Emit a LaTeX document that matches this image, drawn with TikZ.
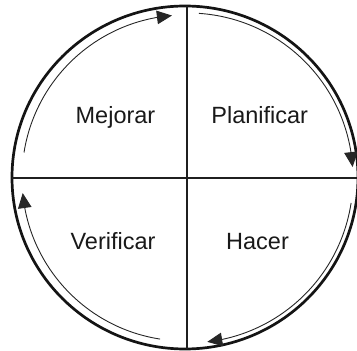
\documentclass[tikz,border=0pt]{standalone}
\usepackage{fontspec}
\setmainfont{Liberation Sans}
\usetikzlibrary{arrows.meta,bending}
\begin{document}
\begin{tikzpicture}[x=1pt,y=1pt,
  lbl/.style={anchor=base,font=\fontsize{23.5}{28}\selectfont,text=black!90},
  rim/.style={line width=2.7pt,draw=black!92},
  cross/.style={line width=2.2pt,draw=black!88},
  flow/.style={line width=0.9pt,draw=black!85,-{Triangle[length=15pt,width=13.5pt,flex]}}]
\useasboundingbox (0,0) rectangle (357,351);
\coordinate (C) at (185,173.5);
\coordinate (L) at (185,173);
\coordinate (R) at (188,173);
\draw[rim] (C) ellipse [x radius=173, y radius=171.5];
\coordinate (top) at (187,345);
\coordinate (bot) at (187,2);
\coordinate (lft) at (12,173);
\coordinate (rgt) at (358,173);
\draw[cross] (top) -- (bot);
\draw[cross] (lft) -- (rgt);
% arcs
\draw[flow] ([shift={(171:163)}]L) arc[start angle=171, end angle=94.6, radius=163];
\draw[flow] ([shift={(86.2:165)}]R) arc[start angle=86.2, end angle=3.8, radius=165];
\draw[flow] ([shift={(-8.7:165)}]R) arc[start angle=-8.7, end angle=-83.3, radius=165];
\draw[flow] ([shift={(261.2:163)}]L) arc[start angle=261.2, end angle=185.3, radius=163];
% labels
\node[lbl] (mej) at (115.5,227) {Mejorar};
\node[lbl] (pla) at (259.7,227) {Planificar};
\node[lbl] (ver) at (113,101) {Verificar};
\node[lbl] (hac) at (257.5,101.5) {Hacer};
\end{tikzpicture}
\end{document}
